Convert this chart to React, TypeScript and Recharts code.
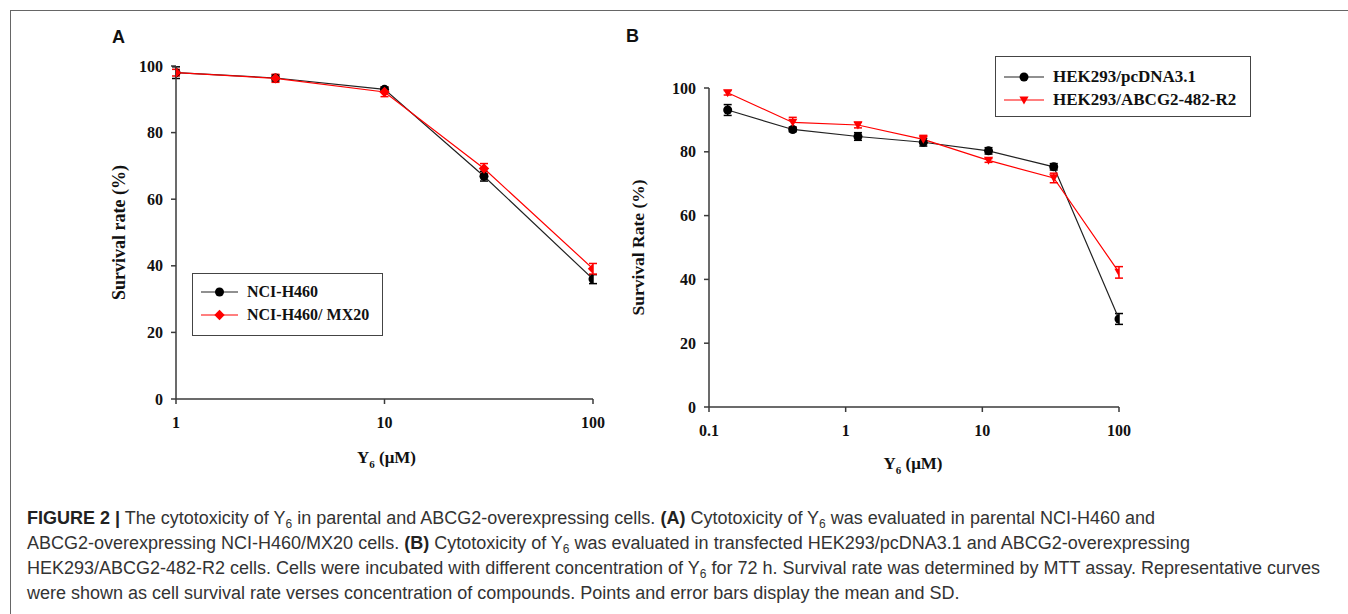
import { LineChart, Line, XAxis, YAxis, ErrorBar } from "recharts"

// Panel A: NCI-H460 vs NCI-H460/MX20
const CONC_A = [1, 3, 10, 30, 100]
const H460 = [98.0, 96.4, 93.0, 66.9, 36.0]
const H460_SD = [1.75, 0.9, 0.7, 1.45, 1.35]
const MX20 = [98.0, 96.3, 92.2, 69.2, 39.1]
const MX20_SD = [1.0, 1.2, 1.4, 1.5, 1.6]

// Panel B: HEK293/pcDNA3.1 vs HEK293/ABCG2-482-R2
const CONC_B = [0.137, 0.41, 1.23, 3.7, 11.1, 33.3, 100]
const PCDNA = [93.1, 87.0, 84.8, 83.0, 80.3, 75.3, 27.6]
const PCDNA_SD = [1.7, 0.7, 1.2, 1.2, 1.0, 1.0, 1.7]
const R2 = [98.5, 89.2, 88.4, 83.9, 77.3, 71.8, 42.2]
const R2_SD = [0.7, 1.6, 0.9, 1.25, 0.6, 1.5, 1.8]

const Y_TICKS = [0, 20, 40, 60, 80, 100]
const X_TICKS_A = [1, 10, 100]
const X_TICKS_B = [0.1, 1, 10, 100]

const dataA = CONC_A.map((c, i) => ({
  conc: c,
  black: H460[i],
  blackErr: H460_SD[i],
  red: MX20[i],
  redErr: MX20_SD[i],
}))

const dataB = CONC_B.map((c, i) => ({
  conc: c,
  black: PCDNA[i],
  blackErr: PCDNA_SD[i],
  red: R2[i],
  redErr: R2_SD[i],
}))

const SERIF = '"Liberation Serif", "Times New Roman", serif'
const SANS = '"Liberation Sans", Arial, sans-serif'
const AXIS = "#3a3a3a"
const RED = "#ff0000"

const TICK = { fontSize: 16, fontWeight: 700, fill: "#111", fontFamily: SERIF }

// ─── markers ────────────────────────────────────────────────────────────────

function CircleDot({ cx, cy }: any) {
  if (cx == null || cy == null) return null
  return <circle cx={cx} cy={cy} r={4.5} fill="#000" />
}

function DiamondDot({ cx, cy }: any) {
  if (cx == null || cy == null) return null
  const s = 5.2
  return <path d={`M${cx},${cy - s}L${cx + s},${cy}L${cx},${cy + s}L${cx - s},${cy}Z`} fill={RED} />
}

function TriangleDot({ cx, cy }: any) {
  if (cx == null || cy == null) return null
  return <path d={`M${cx - 4.6},${cy - 3.6}L${cx + 4.6},${cy - 3.6}L${cx},${cy + 4.4}Z`} fill={RED} />
}

// ─── axis titles ────────────────────────────────────────────────────────────

const yTitle = (text: string, dx: number, size: number) => (props: any) => {
  const vb = props.viewBox
  const x = vb.x + vb.width - dx
  const y = vb.y + vb.height / 2
  return (
    <text
      x={x}
      y={y}
      transform={`rotate(-90 ${x} ${y})`}
      textAnchor="middle"
      dominantBaseline="central"
      fontFamily={SERIF}
      fontWeight={700}
      fontSize={size}
      fill="#111"
    >
      {text}
    </text>
  )
}

const xTitle = (dx: number, dy: number) => (props: any) => {
  const vb = props.viewBox
  const x = vb.x + vb.width / 2 + dx
  const y = vb.y + dy
  return (
    <text x={x} y={y} textAnchor="middle" fontFamily={SERIF} fontWeight={700} fontSize={17} fill="#111">
      <tspan>Y</tspan>
      <tspan dy={5} fontSize={11}>6</tspan>
      <tspan dy={-5}> (μM)</tspan>
    </text>
  )
}

// ─── legend (html overlay) ──────────────────────────────────────────────────

function LegendBox({
  left, top, width, height, rows, fontSize, lineW, rowGap, padTop,
}: {
  left: number; top: number; width: number; height: number
  rows: { label: string; color: string; Shape: any }[]
  fontSize: number; lineW: number; rowGap: number; padTop: number
}) {
  return (
    <div
      style={{
        position: "absolute", left, top, width, height, boxSizing: "border-box",
        border: "1.5px solid #444", background: "#fff", paddingLeft: 8, paddingTop: padTop,
      }}
    >
      {rows.map((r) => (
        <div key={r.label} style={{ display: "flex", alignItems: "center", height: rowGap }}>
          <svg width={lineW} height={14} style={{ marginRight: 9 }}>
            <line x1={0} y1={7} x2={lineW} y2={7} stroke={r.color} strokeWidth={1.2} />
            <r.Shape cx={lineW / 2} cy={7} />
          </svg>
          <span style={{ fontFamily: SERIF, fontWeight: 700, fontSize, color: "#111", whiteSpace: "nowrap" }}>
            {r.label}
          </span>
        </div>
      ))}
    </div>
  )
}

// ─── panels ─────────────────────────────────────────────────────────────────

function PanelA() {
  return (
    <div style={{ position: "absolute", left: 60, top: 20 }}>
      <LineChart width={600} height={460} data={dataA} margin={{ top: 46, right: 67, left: 60, bottom: 21 }}>
        <XAxis
          dataKey="conc"
          type="number"
          scale="log"
          domain={[1, 100]}
          ticks={X_TICKS_A}
          allowDataOverflow
          height={60}
          tick={TICK}
          tickSize={5}
          tickMargin={13}
          stroke={AXIS}
          strokeWidth={1.5}
          label={xTitle(2, 64)}
        />
        <YAxis
          type="number"
          domain={[0, 100]}
          ticks={Y_TICKS}
          width={56}
          tick={TICK}
          tickSize={5}
          tickMargin={8}
          stroke={AXIS}
          strokeWidth={1.5}
          label={yTitle("Survival rate (%)", 57, 18)}
        />
        <Line
          dataKey="black"
          stroke="#222"
          strokeWidth={1.2}
          dot={(p: any) => <CircleDot key={`a-b-${p.index}`} cx={p.cx} cy={p.cy} />}
          activeDot={false}
          isAnimationActive={false}
        >
          <ErrorBar dataKey="blackErr" direction="y" width={4} stroke="#000" strokeWidth={1.5} />
        </Line>
        <Line
          dataKey="red"
          stroke={RED}
          strokeWidth={1.2}
          dot={(p: any) => <DiamondDot key={`a-r-${p.index}`} cx={p.cx} cy={p.cy} />}
          activeDot={false}
          isAnimationActive={false}
        >
          <ErrorBar dataKey="redErr" direction="y" width={4} stroke={RED} strokeWidth={1.5} />
        </Line>
      </LineChart>
    </div>
  )
}

function PanelB() {
  return (
    <div style={{ position: "absolute", left: 580, top: 20 }}>
      <LineChart width={620} height={480} data={dataB} margin={{ top: 68, right: 81, left: 73, bottom: 33 }}>
        <XAxis
          dataKey="conc"
          type="number"
          scale="log"
          domain={[0.1, 100]}
          ticks={X_TICKS_B}
          allowDataOverflow
          height={60}
          tick={TICK}
          tickSize={5}
          tickMargin={13}
          stroke={AXIS}
          strokeWidth={1.5}
          label={xTitle(-1, 62)}
        />
        <YAxis
          type="number"
          domain={[0, 100]}
          ticks={Y_TICKS}
          width={56}
          tick={TICK}
          tickSize={5}
          tickMargin={8}
          stroke={AXIS}
          strokeWidth={1.5}
          label={yTitle("Survival Rate (%)", 71, 17.5)}
        />
        <Line
          dataKey="black"
          stroke="#222"
          strokeWidth={1.2}
          dot={(p: any) => <CircleDot key={`b-b-${p.index}`} cx={p.cx} cy={p.cy} />}
          activeDot={false}
          isAnimationActive={false}
        >
          <ErrorBar dataKey="blackErr" direction="y" width={4} stroke="#000" strokeWidth={1.5} />
        </Line>
        <Line
          dataKey="red"
          stroke={RED}
          strokeWidth={1.2}
          dot={(p: any) => <TriangleDot key={`b-r-${p.index}`} cx={p.cx} cy={p.cy} />}
          activeDot={false}
          isAnimationActive={false}
        >
          <ErrorBar dataKey="redErr" direction="y" width={4} stroke={RED} strokeWidth={1.5} />
        </Line>
      </LineChart>
    </div>
  )
}

const SUB = { fontSize: 12, lineHeight: 0, verticalAlign: "-4px" } as const

export default function App() {
  return (
    <div style={{ position: "relative", width: 1348, height: 614, overflow: "hidden", background: "#fff" }}>
      <style>{"body{margin:0}"}</style>
      {/* figure frame, open to the right and bottom */}
      <div
        style={{
          position: "absolute", left: 10, top: 10, width: 1400, height: 700,
          border: "1.5px solid #666", boxSizing: "border-box",
        }}
      />
      <div style={{ position: "absolute", left: 112, top: 27, fontFamily: SANS, fontWeight: 700, fontSize: 18, color: "#111" }}>A</div>
      <div style={{ position: "absolute", left: 626, top: 26, fontFamily: SANS, fontWeight: 700, fontSize: 18, color: "#111" }}>B</div>

      <PanelA />
      <PanelB />

      <LegendBox
        left={192}
        top={273}
        width={191}
        height={63}
        fontSize={16}
        lineW={37}
        rowGap={23}
        padTop={6}
        rows={[
          { label: "NCI-H460", color: "#222", Shape: CircleDot },
          { label: "NCI-H460/ MX20", color: RED, Shape: DiamondDot },
        ]}
      />
      <LegendBox
        left={995}
        top={56}
        width={256}
        height={61}
        fontSize={17}
        lineW={40}
        rowGap={23}
        padTop={8}
        rows={[
          { label: "HEK293/pcDNA3.1", color: "#222", Shape: CircleDot },
          { label: "HEK293/ABCG2-482-R2", color: RED, Shape: TriangleDot },
        ]}
      />

      <div
        style={{
          position: "absolute", left: 27, top: 506, whiteSpace: "nowrap",
          fontFamily: SANS, fontSize: 18, lineHeight: "25px", color: "#333",
        }}
      >
        <b style={{ color: "#222" }}>FIGURE 2 |</b> The cytotoxicity of Y<sub style={SUB}>6</sub> in parental and ABCG2-overexpressing cells.{" "}
        <b style={{ color: "#222" }}>(A)</b> Cytotoxicity of Y<sub style={SUB}>6</sub> was evaluated in parental NCI-H460 and
        <br />
        ABCG2-overexpressing NCI-H460/MX20 cells. <b style={{ color: "#222" }}>(B)</b> Cytotoxicity of Y<sub style={SUB}>6</sub> was evaluated in transfected HEK293/pcDNA3.1 and ABCG2-overexpressing
        <br />
        HEK293/ABCG2-482-R2 cells. Cells were incubated with different concentration of Y<sub style={SUB}>6</sub> for 72 h. Survival rate was determined by MTT assay. Representative curves
        <br />
        were shown as cell survival rate verses concentration of compounds. Points and error bars display the mean and SD.
      </div>
    </div>
  )
}
